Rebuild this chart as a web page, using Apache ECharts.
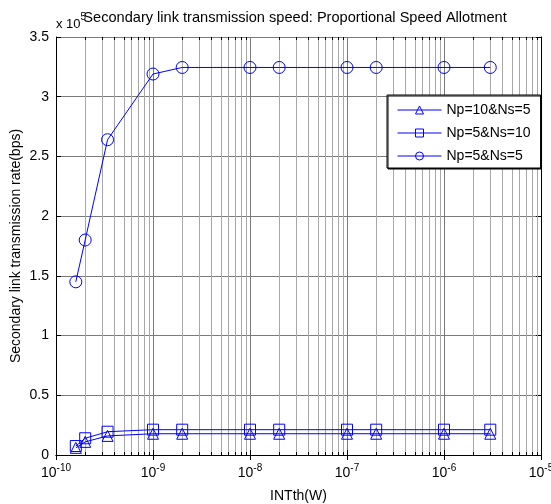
<!DOCTYPE html>
<html>
<head>
<meta charset="utf-8">
<script src="https://cdn.jsdelivr.net/npm/echarts@6/dist/echarts.min.js"></script>
<style>html,body{margin:0;padding:0;background:#fff;}#c{width:551px;height:504px;}</style>
</head>
<body>
<div id="c"></div>
<script>
// INTth (W)
var xValues = [1.6e-10, 2e-10, 3.4e-10, 1e-9, 2e-9, 1e-8, 2e-8, 1e-7, 2e-7, 1e-6, 3e-6];
// rates in units of 10^5 bps
var np10ns5 = [0.06, 0.11, 0.16, 0.178, 0.178, 0.178, 0.178, 0.178, 0.178, 0.178, 0.178];
var np5ns10 = [0.075, 0.14, 0.195, 0.212, 0.212, 0.212, 0.212, 0.212, 0.212, 0.212, 0.212];
var np5ns5  = [1.45, 1.80, 2.64, 3.19, 3.245, 3.245, 3.245, 3.245, 3.245, 3.245, 3.245];
var seriesNames = ['Np=10&Ns=5', 'Np=5&Ns=10', 'Np=5&Ns=5'];
var decadeExps = [-10, -9, -8, -7, -6];
var minorMults = [2, 3, 4, 5, 6, 7, 8, 9];
var yTicks = [0, 0.5, 1, 1.5, 2, 2.5, 3, 3.5];

function pairs(ys) { return xValues.map(function (x, i) { return [x, ys[i]]; }); }
var minorX = [];
decadeExps.forEach(function (e) {
  minorMults.forEach(function (k) { minorX.push([k * Math.pow(10, e)]); });
});
var yMin = yTicks[0], yMax = yTicks[yTicks.length - 1];

var FONT = 'Liberation Sans, Arial, sans-serif';
var blue = '#0000ff';
var chart = echarts.init(document.getElementById('c'), null, { renderer: 'canvas' });
var xAxisBase = { type: 'log', logBase: 10, min: 1e-10, max: 1e-5 };
var yAxisBase = { type: 'value', min: yMin, max: yMax, interval: 0.5 };

function lineSeries(name, data, symbol, size) {
  return {
    name: name, type: 'line', data: pairs(data), z: 5,
    symbol: symbol, symbolSize: size, showSymbol: true,
    lineStyle: { color: blue, width: 1 },
    itemStyle: { color: 'rgba(255,255,255,0)', borderColor: blue, borderWidth: 1 },
    emphasis: { disabled: true }
  };
}

function renderMinor(params, api) {
  var x = api.value(0);
  var pb = api.coord([x, yMin]);
  var pt = api.coord([x, yMax]);
  var px = Math.round(pb[0]) + 0.5;
  return {
    type: 'group',
    children: [
      { type: 'line', shape: { x1: px, y1: pb[1], x2: px, y2: pt[1] },
        style: { stroke: '#a8a8a8', lineWidth: 1 } },
      { type: 'line', shape: { x1: px, y1: pb[1], x2: px, y2: pb[1] - 3 },
        style: { stroke: '#000', lineWidth: 1 } },
      { type: 'line', shape: { x1: px, y1: pt[1], x2: px, y2: pt[1] + 3 },
        style: { stroke: '#000', lineWidth: 1 } }
    ]
  };
}

chart.setOption({
  animation: false,
  backgroundColor: '#fff',
  title: [
    { text: 'Secondary link transmission speed: Proportional Speed Allotment', left: 290, top: 5, textAlign: 'center',
      textStyle: { fontFamily: FONT, fontSize: 14.6, fontWeight: 'normal', color: '#000' } },
    { text: '{a|x 10}{b|5}', left: 51, top: 7,
      textStyle: { fontWeight: 'normal', rich: {
        a: { fontFamily: FONT, fontSize: 13, fontWeight: 'normal', color: '#000', verticalAlign: 'bottom', padding: [6, 0, 0, 0] },
        b: { fontFamily: FONT, fontSize: 10, fontWeight: 'normal', color: '#000', verticalAlign: 'top' } } } }
  ],
  grid: { left: 56, right: 10, top: 37, bottom: 49, containLabel: false, outerBoundsMode: 'none' },
  legend: {
    data: seriesNames, orient: 'vertical', left: 387, top: 95,
    padding: [8, 10, 5, 10], itemWidth: 44, itemHeight: 10, itemGap: 9,
    backgroundColor: '#fff', borderColor: '#000', borderWidth: 1,
    shadowColor: '#000', shadowOffsetX: 1, shadowOffsetY: 1, shadowBlur: 0,
    lineStyle: { width: 1 },
    itemStyle: { borderWidth: 1 },
    textStyle: { fontFamily: FONT, fontSize: 14, color: '#000', padding: [0, 0, 0, 0] },
    selectedMode: false
  },
  xAxis: [
    Object.assign({}, xAxisBase, {
      position: 'bottom',
      name: 'INTth(W)', nameLocation: 'middle', nameGap: 34, nameMoveOverlap: false,
      nameTextStyle: { fontFamily: FONT, fontSize: 14, color: '#000' },
      axisLine: { show: true, lineStyle: { color: '#000', width: 1 } },
      axisTick: { show: true, inside: true, length: 5, lineStyle: { color: '#000' } },
      axisLabel: {
        margin: 8,
        formatter: function (v) { return '{b|10}{s|' + Math.round(Math.log10(v)) + '}'; },
        rich: {
          b: { fontFamily: FONT, fontSize: 14, color: '#000', verticalAlign: 'bottom', lineHeight: 17 },
          s: { fontFamily: FONT, fontSize: 10, color: '#000', verticalAlign: 'top', lineHeight: 13 }
        }
      },
      splitLine: { show: true, lineStyle: { color: '#7a7a7a', width: 1 } }
    }),
    Object.assign({}, xAxisBase, {
      position: 'top',
      axisLine: { show: true, lineStyle: { color: '#000', width: 1 } },
      axisTick: { show: true, inside: true, length: 5, lineStyle: { color: '#000' } },
      axisLabel: { show: false }, splitLine: { show: false }
    })
  ],
  yAxis: [
    Object.assign({}, yAxisBase, {
      position: 'left',
      name: 'Secondary link transmission rate(bps)', nameLocation: 'middle', nameGap: 33, nameMoveOverlap: false,
      nameTextStyle: { fontFamily: FONT, fontSize: 14, color: '#000' },
      axisLine: { show: true, lineStyle: { color: '#000', width: 1 } },
      axisTick: { show: true, inside: true, length: 5, lineStyle: { color: '#000' } },
      axisLabel: { fontFamily: FONT, fontSize: 14, color: '#000', margin: 7,
        formatter: function (v) { return String(v); } },
      splitLine: { show: true, lineStyle: { color: '#7a7a7a', width: 1 } }
    }),
    Object.assign({}, yAxisBase, {
      position: 'right',
      axisLine: { show: true, lineStyle: { color: '#000', width: 1 } },
      axisTick: { show: true, inside: true, length: 5, lineStyle: { color: '#000' } },
      axisLabel: { show: false }, splitLine: { show: false }
    })
  ],
  series: [
    {
      name: 'minorGrid', type: 'custom', data: minorX, z: 1, silent: true,
      encode: { x: 0 }, renderItem: renderMinor, clip: false
    },
    lineSeries(seriesNames[0], np10ns5, 'triangle', 11),
    lineSeries(seriesNames[1], np5ns10, 'rect', 11),
    lineSeries(seriesNames[2], np5ns5, 'circle', 12)
  ]
});
</script>
</body>
</html>
